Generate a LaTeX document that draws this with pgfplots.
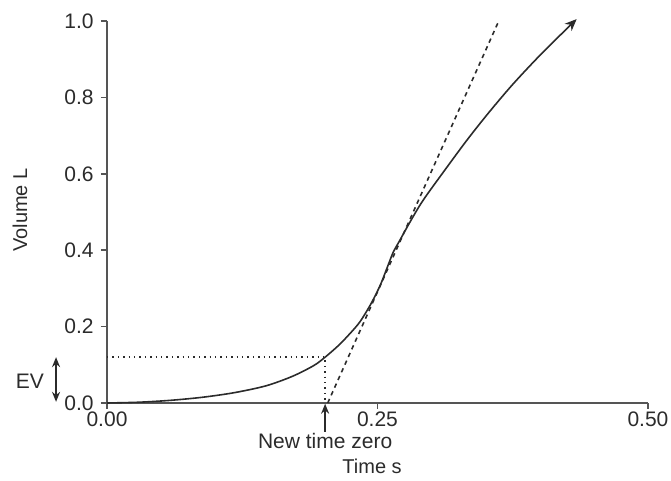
\documentclass[border=0pt]{standalone}
\usepackage{pgfplots}
\pgfplotsset{compat=1.18}
\usetikzlibrary{arrows.meta}
\usepackage{fontspec}
\setmainfont{Liberation Sans}
\definecolor{ink}{HTML}{2B2B2B}
\definecolor{axisgray}{HTML}{555555}
\begin{document}
\fontsize{10.5}{12.6}\selectfont
\begin{tikzpicture}
\useasboundingbox (-53.5pt,-39pt) rectangle (282pt,201.5pt);
\begin{axis}[
  at={(0,0)}, anchor=south west,
  scale only axis, width=270.5pt, height=191pt,
  xmin=0, xmax=0.5, ymin=0, ymax=1,
  axis lines=left,
  axis line style={-, draw=axisgray, line width=0.9pt},
  xtick={0,0.25,0.5}, ytick={0,0.2,0.4,0.6,0.8,1.0},
  xticklabels={0.00,0.25,0.50},
  yticklabels={0.0,0.2,0.4,0.6,0.8,1.0},
  tick align=outside, major tick length=3pt,
  tick style={axisgray, line width=0.8pt},
  ticklabel style={font=\fontsize{10.5}{12.6}\selectfont, text=ink},
  xticklabel style={yshift=2.5pt},
  xlabel={Time s},
  xlabel style={at={(axis description cs:0.49,-0.165)}, anchor=center, font=\fontsize{10}{12}\selectfont, text=ink},
  ylabel={Volume L},
  ylabel style={at={(axis description cs:-0.161,0.505)}, anchor=center, font=\fontsize{10}{12}\selectfont, text=ink},
  clip=false,
]
\addplot[ink, line width=0.8pt, smooth, -{Stealth[length=6pt,width=5pt]}] coordinates {
(0,0) (0.0294,0.002) (0.0588,0.007) (0.0882,0.015) (0.1176,0.027) (0.147,0.045)
(0.1715,0.07) (0.1911,0.098) (0.2016,0.12) (0.2156,0.155) (0.2303,0.2)
(0.2367,0.225) (0.245,0.265) (0.2528,0.31) (0.2597,0.36) (0.2646,0.395)
(0.2705,0.425) (0.2793,0.47) (0.292,0.53) (0.3136,0.615) (0.3332,0.69)
(0.3528,0.76) (0.3753,0.835) (0.4018,0.915) (0.4341,1.005)
};
\addplot[ink, line width=0.8pt, dash pattern=on 2.2pt off 2pt] coordinates {(0.204,0) (0.3616,0.997)};
\addplot[ink, line width=0.7pt, dotted] coordinates {(0,0.12) (0.2016,0.12) (0.2016,0)};
\addplot[ink, line width=0.8pt, -{Stealth[length=5pt,width=4pt]}] coordinates {(0.2016,-0.075) (0.2016,-0.002)};
\addplot[ink, line width=0.8pt, {Stealth[length=5pt,width=4pt]}-{Stealth[length=5pt,width=4pt]}] coordinates {(-0.0471,0.003) (-0.0471,0.12)};
\node[text=ink, font=\fontsize{10.5}{12.6}\selectfont] at (axis cs:0.2016,-0.1) {New time zero};
\node[text=ink, font=\fontsize{10.5}{12.6}\selectfont] at (axis cs:-0.0712,0.058) {EV};
\end{axis}
\end{tikzpicture}
\end{document}
